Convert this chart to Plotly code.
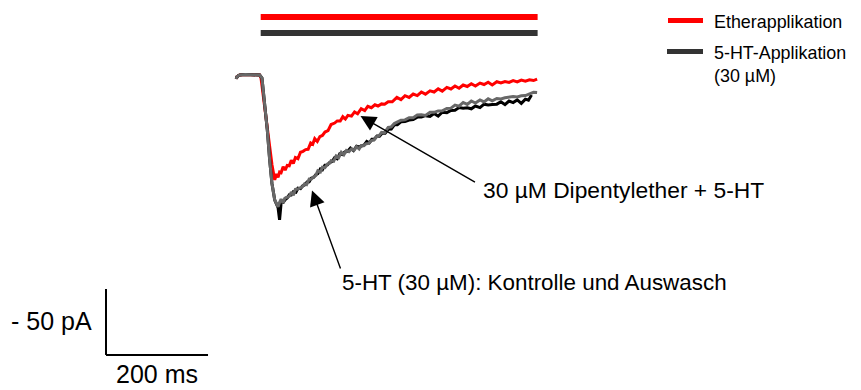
import plotly.graph_objects as go

# ---------------- data (time in ms relative to application onset, current in pA) -------------
red_t = [-50, -47, -44, -41, -30, -20, -10, -2, 0.6, 6, 12, 18, 22.2, 27.5,
         31, 34, 37, 40, 44, 48, 52, 56, 60, 64, 68, 73, 78, 83, 88, 93, 98, 102, 106,
         111, 116, 121, 126, 132, 138, 145, 150, 156, 161, 166, 171, 178, 184, 190, 197,
         204, 210, 217, 224, 230, 237, 243, 250, 258, 267, 275, 283, 291, 299, 307, 315,
         323, 332, 340, 348, 356, 365, 373, 381, 389, 397, 405, 413, 421, 430, 438, 446,
         454, 463, 471, 479, 487, 495, 503, 511, 519, 527, 535, 542]
red_i = [-1.7, -2.0, -0.5, 0, 0.3, 0.2, 0.4, 0, -2.3, -18.8, -37, -55.4, -68.2, -79.5,
         -75, -77.5, -73.5, -74, -69.5, -72, -68.5, -68.8, -64.7, -67, -62.5, -63.4, -58.5,
         -57.8, -56.5, -56.3, -51.5, -52.5, -48.2, -50.3, -46.7, -45.8, -43.2, -42.2, -37.5,
         -36.4, -34.8, -34.8, -31.6, -33.4, -30.6, -31.2, -28, -29.4, -25.5, -27, -23.8,
         -24.8, -22.6, -23.5, -21.9, -22.1, -20.2, -20.3, -17, -18.7, -15.7, -17, -14.4,
         -15.6, -12.9, -14.5, -12, -12.9, -10.5, -12.2, -9.4, -10.6, -8.3, -10, -7.6,
         -8.7, -6.6, -8.3, -6.1, -7.2, -5.5, -7.5, -5.1, -6, -4.9, -5.6, -4.3, -5.2, -3.8,
         -4.7, -3.6, -4.2, -3.1]

gray_t = [-50, -47, -44, -41, -30, -20, -10, -2, 2.5, 8, 13, 17.6, 22, 27.5, 31, 34,
          37, 40, 44, 47, 50, 54, 57, 60, 64, 68, 73, 78, 82, 86, 90, 95, 99, 104, 108, 112,
          117, 121, 126, 131, 135, 138, 143, 148, 153, 158, 163, 168, 173, 178, 183, 188,
          193, 197, 202, 207, 212, 217, 222, 227, 232, 237, 243, 250, 256, 262, 267, 275,
          283, 291, 299, 307, 315, 323, 332, 340, 348, 356, 365, 373, 381, 389, 397, 405,
          413, 421, 430, 438, 446, 454, 463, 471, 479, 487, 495, 503, 511, 519, 527, 535, 542]
gray_i = [-1.7, -2.0, -0.5, 0, 0.3, 0.2, 0.4, 0, -2.3, -22, -42, -64.4, -82, -94.7, -98,
          -99.8, -96.5, -94, -97, -93.5, -92.8, -92.4, -91.3, -88.8, -91, -86.7, -86.4,
          -85.4, -84.6, -82.5, -83.1, -78.8, -79, -77.1, -76.1, -72.5, -73.5, -69.8, -70.2,
          -67.5, -66.9, -64.9, -65.4, -61.3, -62.5, -58.5, -60.4, -57.2, -58.1, -56, -57,
          -54.3, -56, -53.5, -53.6, -52, -51.8, -49.7, -49.3, -46.8, -46.1, -43.5, -43.7,
          -39.7, -39.3, -36.8, -36, -34.3, -34, -32.3, -32.4, -30.3, -30.2, -30.6, -28.3,
          -28.3, -27.2, -27.1, -25.3, -25.1, -22.8, -23.6, -20.8, -22.3, -19.7, -21.2, -18.9,
          -20.4, -18, -19.6, -17.8, -18.1, -17.3, -16.9, -16.3, -16.6, -15.8, -15.6, -14.3,
          -13.1, -13.3]

black_t = [-50, -47, -44, -41, -30, -20, -10, -2, 2.5, 8, 13, 17.6, 22, 27.5, 31, 34,
           37, 40, 44, 48, 52, 56, 60, 64, 69, 73, 78, 82, 86, 91, 95, 99, 104, 108, 112,
           117, 121, 126, 131, 135, 140, 145, 150, 155, 160, 165, 170, 176, 182, 188, 193,
           198, 203, 208, 213, 218, 223, 228, 233, 238, 244, 250, 256, 262, 268, 275, 283,
           291, 299, 307, 315, 323, 332, 340, 348, 356, 365, 373, 381, 389, 397, 405, 413,
           421, 430, 438, 446, 454, 463, 471, 479, 487, 495, 503, 511, 519, 525, 531]
black_i = [-1.7, -2.0, -0.5, 0, 0.3, 0.2, 0.4, 0, -2.3, -22, -42, -64.4, -82, -94.7,
           -98.5, -100.5, -109.8, -97, -96.6, -94.4, -93.2, -90.8, -90.9, -88.4, -88.8, -85.8,
           -86.1, -84.1, -83.3, -81, -80.9, -78.2, -77.5, -75.5, -74.7, -71.2, -71.9, -68.3,
           -68.1, -66.3, -65.6, -62.6, -63.5, -59.7, -60.3, -58.3, -57.9, -55.3, -57.2, -53.9,
           -54.5, -53.8, -53, -50.4, -51.4, -48.7, -48.5, -46.2, -46.3, -44.1, -44.2, -41.1,
           -40.9, -37.7, -37.7, -35.5, -35.3, -34.2, -33.7, -31.9, -31.8, -30.8, -31.3, -29.1,
           -31.2, -28.2, -28.5, -26.8, -26.7, -24.7, -25.2, -24.9, -25.6, -23.5, -24.7, -22.1,
           -22.7, -22.4, -22.1, -20.3, -22.5, -19.7, -20.9, -18.9, -21.5, -18.3, -19.1, -15.2]

application_ms = [0, 543]          # ether and 5-HT application periods
scale_time_ms = 200
scale_current_pa = 50

legend_labels = ["Etherapplikation", "5-HT-Applikation<br>(30 µM)"]
label_ether = "30 µM Dipentylether + 5-HT"
label_control = "5-HT (30 µM): Kontrolle und Auswasch"

# ---------------- figure -------------------------------------------------------------------
W, H = 861, 390
FONT = "Liberation Sans, Arial, sans-serif"
XR = [-511.2, 1177.1]
YR = [-238.64, 56.82]


def px(x):
    return x / W


def py(y):
    return 1 - y / H


fig = go.Figure()
fig.add_trace(go.Scatter(x=red_t, y=red_i, mode="lines",
                         line=dict(color="#ff0000", width=3), hoverinfo="skip"))
fig.add_trace(go.Scatter(x=black_t, y=black_i, mode="lines",
                         line=dict(color="#000000", width=3), hoverinfo="skip"))
fig.add_trace(go.Scatter(x=gray_t, y=gray_i, mode="lines",
                         line=dict(color="#686868", width=3), hoverinfo="skip"))

shapes = []
# application bars
shapes.append(dict(type="line", xref="x", yref="paper", x0=application_ms[0],
                   x1=application_ms[1], y0=py(17), y1=py(17),
                   line=dict(color="#ff0000", width=6)))
shapes.append(dict(type="line", xref="x", yref="paper", x0=application_ms[0],
                   x1=application_ms[1], y0=py(33), y1=py(33),
                   line=dict(color="#333333", width=6)))
# legend swatches
shapes.append(dict(type="line", xref="paper", yref="paper", x0=px(668), x1=px(703),
                   y0=py(20.5), y1=py(20.5), line=dict(color="#ff0000", width=5)))
shapes.append(dict(type="line", xref="paper", yref="paper", x0=px(667), x1=px(703),
                   y0=py(51.5), y1=py(51.5), line=dict(color="#333333", width=5)))
# scale bars
sx0, sy0 = -303.3, -212.1
shapes.append(dict(type="line", xref="x", yref="y", x0=sx0, x1=sx0,
                   y0=sy0, y1=sy0 + scale_current_pa, line=dict(color="#000", width=2)))
shapes.append(dict(type="line", xref="x", yref="y", x0=sx0, x1=sx0 + scale_time_ms,
                   y0=sy0, y1=sy0, line=dict(color="#000", width=2)))

annotations = [
    dict(xref="paper", yref="paper", x=px(712), y=py(21.5), text=legend_labels[0],
         showarrow=False, xanchor="left", yanchor="middle",
         font=dict(family=FONT, size=17.9, color="#000")),
    dict(xref="paper", yref="paper", x=px(712), y=py(41), text=legend_labels[1],
         showarrow=False, xanchor="left", yanchor="top", align="left",
         font=dict(family=FONT, size=17.9, color="#000")),
    dict(xref="paper", yref="paper", x=px(481), y=py(190), text=label_ether,
         showarrow=False, xanchor="left", yanchor="middle",
         font=dict(family=FONT, size=22.8, color="#000")),
    dict(xref="paper", yref="paper", x=px(340), y=py(282), text=label_control,
         showarrow=False, xanchor="left", yanchor="middle",
         font=dict(family=FONT, size=22.4, color="#000")),
    dict(xref="paper", yref="paper", x=px(94), y=py(321), text="- %d pA" % scale_current_pa,
         showarrow=False, xanchor="right", yanchor="middle",
         font=dict(family=FONT, size=25, color="#000")),
    dict(xref="x", yref="paper", x=sx0 + scale_time_ms / 2, y=0.0,
         text="%d ms" % scale_time_ms, showarrow=False, xanchor="center", yanchor="bottom",
         font=dict(family=FONT, size=25, color="#000")),
    # arrows
    dict(xref="x", yref="y", axref="x", ayref="y", x=195.7, y=-31.1, ax=423.1, ay=-81.8,
         text="", showarrow=True, arrowhead=2, arrowsize=2.2, arrowwidth=1.4,
         arrowcolor="#000"),
    dict(xref="x", yref="y", axref="x", ayref="y", x=100.6, y=-87.5, ax=157.5, ay=-147.7,
         text="", showarrow=True, arrowhead=2, arrowsize=2.2, arrowwidth=1.4,
         arrowcolor="#000"),
]

fig.update_layout(
    width=W, height=H, margin=dict(l=0, r=0, t=0, b=0),
    paper_bgcolor="white", plot_bgcolor="white", showlegend=False,
    xaxis=dict(range=XR, visible=False, fixedrange=True),
    yaxis=dict(range=YR, visible=False, fixedrange=True),
    shapes=shapes, annotations=annotations,
)
fig.write_html("out.html")
